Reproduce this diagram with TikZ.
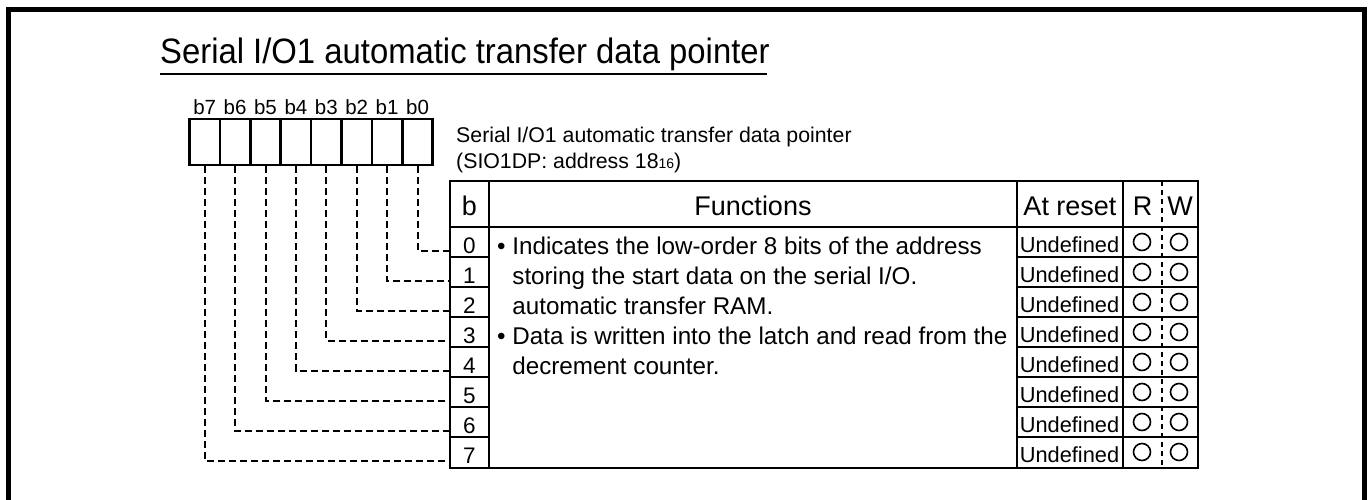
\documentclass[tikz,border=0pt]{standalone}
\usepackage{fontspec}
\setmainfont{Liberation Sans}
\newfontfamily\condfont{Liberation Sans}[FakeStretch=0.93]
\newcommand\fsz[1]{\fontsize{#1}{#1}\selectfont}
\begin{document}
\begin{tikzpicture}[x=1pt,y=-1pt,
  frame/.style={line width=5pt},
  gridline/.style={line width=2.6pt},
  regbox/.style={draw,line width=2.6pt,minimum width=30.4pt,minimum height=46pt,inner sep=0pt},
  dashline/.style={line width=2pt,dash pattern=on 7pt off 4pt},
  rwdash/.style={line width=1.6pt,dash pattern=on 5pt off 4pt},
  txt/.style={inner sep=0pt,anchor=base},
  txtw/.style={inner sep=0pt,anchor=base west},
  circ/.style={circle,draw,line width=1.6pt,minimum size=17pt,inner sep=0pt}
]
\useasboundingbox (0,0) rectangle (1369,500);
% outer frame
\draw[frame] (8.5,500) -- (8.5,9.5) -- (1364.5,9.5) -- (1364.5,500);
% title
\node[txtw,font=\condfont\fsz{35.3}] (title) at (160,64) {Serial I/O1 automatic transfer data pointer};
\draw[line width=1.5pt] (160,74) -- (767,74);
% register boxes
\foreach \k in {0,...,7} {
  \node[regbox] (bx\k) at (417.5-30.4*\k,142) {};
  \node[txt,font=\fsz{20.5}] (lb\k) at (417.5-30.4*\k,115) {b\k};
}
% description
\node[txtw,font=\fsz{21.3}] (desc1) at (456,143) {Serial I/O1 automatic transfer data pointer};
\node[txtw,font=\fsz{21.3}] (desc2) at (456,168) {(SIO1DP: address 18\raisebox{-1pt}{\fsz{14}16})};
% table grid
\draw[gridline] (450,181) rectangle (1198,468);
\draw[gridline] (450,227) -- (1198,227);
\draw[gridline] (489,181) -- (489,468);
\draw[gridline] (1017,181) -- (1017,468);
\draw[gridline] (1123,181) -- (1123,468);
\draw[rwdash] (1162,181) -- (1162,468);
\foreach \k in {0,...,6} {
  \draw[gridline] (450,257+30*\k) -- (489,257+30*\k);
  \draw[gridline] (1017,257+30*\k) -- (1198,257+30*\k);
}
% header
\node[txt,font=\fsz{27}] (hb) at (469.5,215) {b};
\node[txt,font=\fsz{27}] (hf) at (753,215) {Functions};
\node[txt,font=\fsz{27}] (ha) at (1070,215) {At reset};
\node[txt,font=\fsz{27}] (hr) at (1142.5,215) {R};
\node[txt,font=\fsz{27}] (hw) at (1180,215) {W};
% rows
\foreach \k in {0,...,7} {
  \node[txt,font=\fsz{22.5}] (n\k) at (469.5,253+30*\k) {\k};
  \node[txt,font=\fsz{21.8}] (u\k) at (1069.5,252+30*\k) {Undefined};
  \node[circ] (r\k) at (1142,242+30*\k) {};
  \node[circ] (w\k) at (1179,242+30*\k) {};
  \coordinate (c\k) at (450,251+30*\k);
  \draw[dashline] (bx\k.south) |- (c\k);
}
% functions text
\node[txtw,font=\fsz{24.2}] (f0) at (497,254) {• Indicates the low-order 8 bits of the address};
\node[txtw,font=\fsz{24.2}] (f1) at (497,284) {\hphantom{• }storing the start data on the serial I/O.};
\node[txtw,font=\fsz{24.2}] (f2) at (497,314) {\hphantom{• }automatic transfer RAM.};
\node[txtw,font=\fsz{24.2}] (f3) at (497,344) {• Data is written into the latch and read from the};
\node[txtw,font=\fsz{24.2}] (f4) at (497,374) {\hphantom{• }decrement counter.};
\end{tikzpicture}
\end{document}
